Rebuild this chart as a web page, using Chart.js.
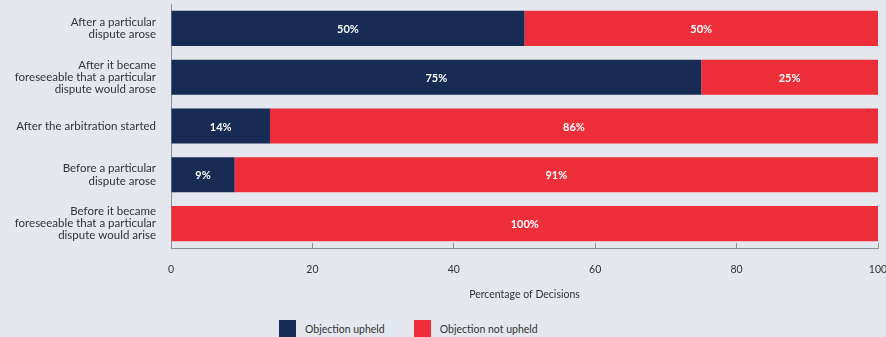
<!DOCTYPE html>
<html>
<head>
<meta charset="utf-8">
<script src="https://cdn.jsdelivr.net/npm/chart.js@4"></script>
<style>
  html, body { margin: 0; padding: 0; background: #e4e7ee; overflow: hidden; }
  #wrap { position: relative; width: 886px; height: 337px; }
  #chartBox { position: absolute; left: 0; top: 0; width: 886px; height: 310px; }
  #legend { position: absolute; left: 279px; top: 320px; display: flex; align-items: center;
            font-family: Lato, "Open Sans", sans-serif; font-size: 10.5px; color: #333; }
  #legend span.box { display: inline-block; width: 17px; height: 17px; margin-right: 9px; }
  #legend span.item { display: flex; align-items: center; margin-right: 29px; }
</style>
</head>
<body>
<div id="wrap">
  <div id="chartBox"><canvas id="chart"></canvas></div>
  <div id="legend"></div>
</div>
<script>
// categories (multi-line labels)
const categories = [
  ['After a particular', 'dispute arose'],
  ['After it became', 'foreseeable that a particular', 'dispute would arose'],
  'After the arbitration started',
  ['Before a particular', 'dispute arose'],
  ['Before it became', 'foreseeable that a particular', 'dispute would arise']
];
const upheld = [50, 75, 14, 9, 0];
const notUpheld = [50, 25, 86, 91, 100];
const seriesNames = ['Objection upheld', 'Objection not upheld'];
const seriesColors = ['#172b54', '#ee2f3a'];
const xTicks = [0, 20, 40, 60, 80, 100];

const FONT = 'Lato, "Open Sans", sans-serif';

// white percentage labels in the middle of each segment
const segmentLabels = {
  id: 'segmentLabels',
  afterDatasetsDraw(chart) {
    const ctx = chart.ctx;
    ctx.save();
    ctx.fillStyle = '#ffffff';
    ctx.font = 'bold 11px ' + FONT;
    ctx.textAlign = 'center';
    ctx.textBaseline = 'middle';
    chart.data.datasets.forEach((ds, i) => {
      chart.getDatasetMeta(i).data.forEach((bar, j) => {
        const v = ds.data[j];
        if (!v) return;
        const p = bar.getProps(['x', 'y', 'base']);
        ctx.fillText(v + '%', (p.x + p.base) / 2, p.y + 1);
      });
    });
    ctx.restore();
  }
};

const ctx = document.getElementById('chart').getContext('2d');
const chart = new Chart(ctx, {
  type: 'bar',
  data: {
    labels: categories,
    datasets: [
      { label: seriesNames[0], data: upheld, backgroundColor: seriesColors[0] },
      { label: seriesNames[1], data: notUpheld, backgroundColor: seriesColors[1] }
    ]
  },
  options: {
    indexAxis: 'y',
    responsive: true,
    maintainAspectRatio: false,
    animation: false,
    datasets: { bar: { barPercentage: 0.72, categoryPercentage: 1 } },
    layout: { padding: { top: 4, right: 8, left: 0, bottom: 0 } },
    plugins: { legend: { display: false }, tooltip: { enabled: false } },
    scales: {
      x: {
        stacked: true,
        min: 0,
        max: 100,
        afterBuildTicks: s => { s.ticks = xTicks.map(v => ({ value: v })); },
        afterFit: s => { s.paddingRight = 0; s.paddingLeft = 0; s.height = 62; },
        grid: { display: true, drawOnChartArea: false, drawTicks: true, tickLength: -5, color: '#8a8d94' },
        border: { display: true, color: '#8a8d94', width: 1 },
        ticks: { padding: 20, maxRotation: 0, color: '#333', font: { family: FONT, size: 10.5 } },
        title: { display: true, text: 'Percentage of Decisions', color: '#333',
                 font: { family: FONT, size: 10.5 }, padding: { top: 0, bottom: 9 } }
      },
      y: {
        stacked: true,
        afterFit: s => { s.width = 171; s.paddingTop = 0; s.paddingBottom = 0; },
        grid: { display: false },
        border: { display: true, color: '#8a8d94', width: 1 },
        ticks: { padding: 7, color: '#333', font: { family: FONT, size: 11.5, lineHeight: 1.05 } }
      }
    }
  },
  plugins: [segmentLabels]
});

// legend built from the same series
const legend = document.getElementById('legend');
seriesNames.forEach((name, i) => {
  const item = document.createElement('span');
  item.className = 'item';
  const box = document.createElement('span');
  box.className = 'box';
  box.style.background = seriesColors[i];
  item.appendChild(box);
  item.appendChild(document.createTextNode(name));
  legend.appendChild(item);
});
</script>
</body>
</html>
